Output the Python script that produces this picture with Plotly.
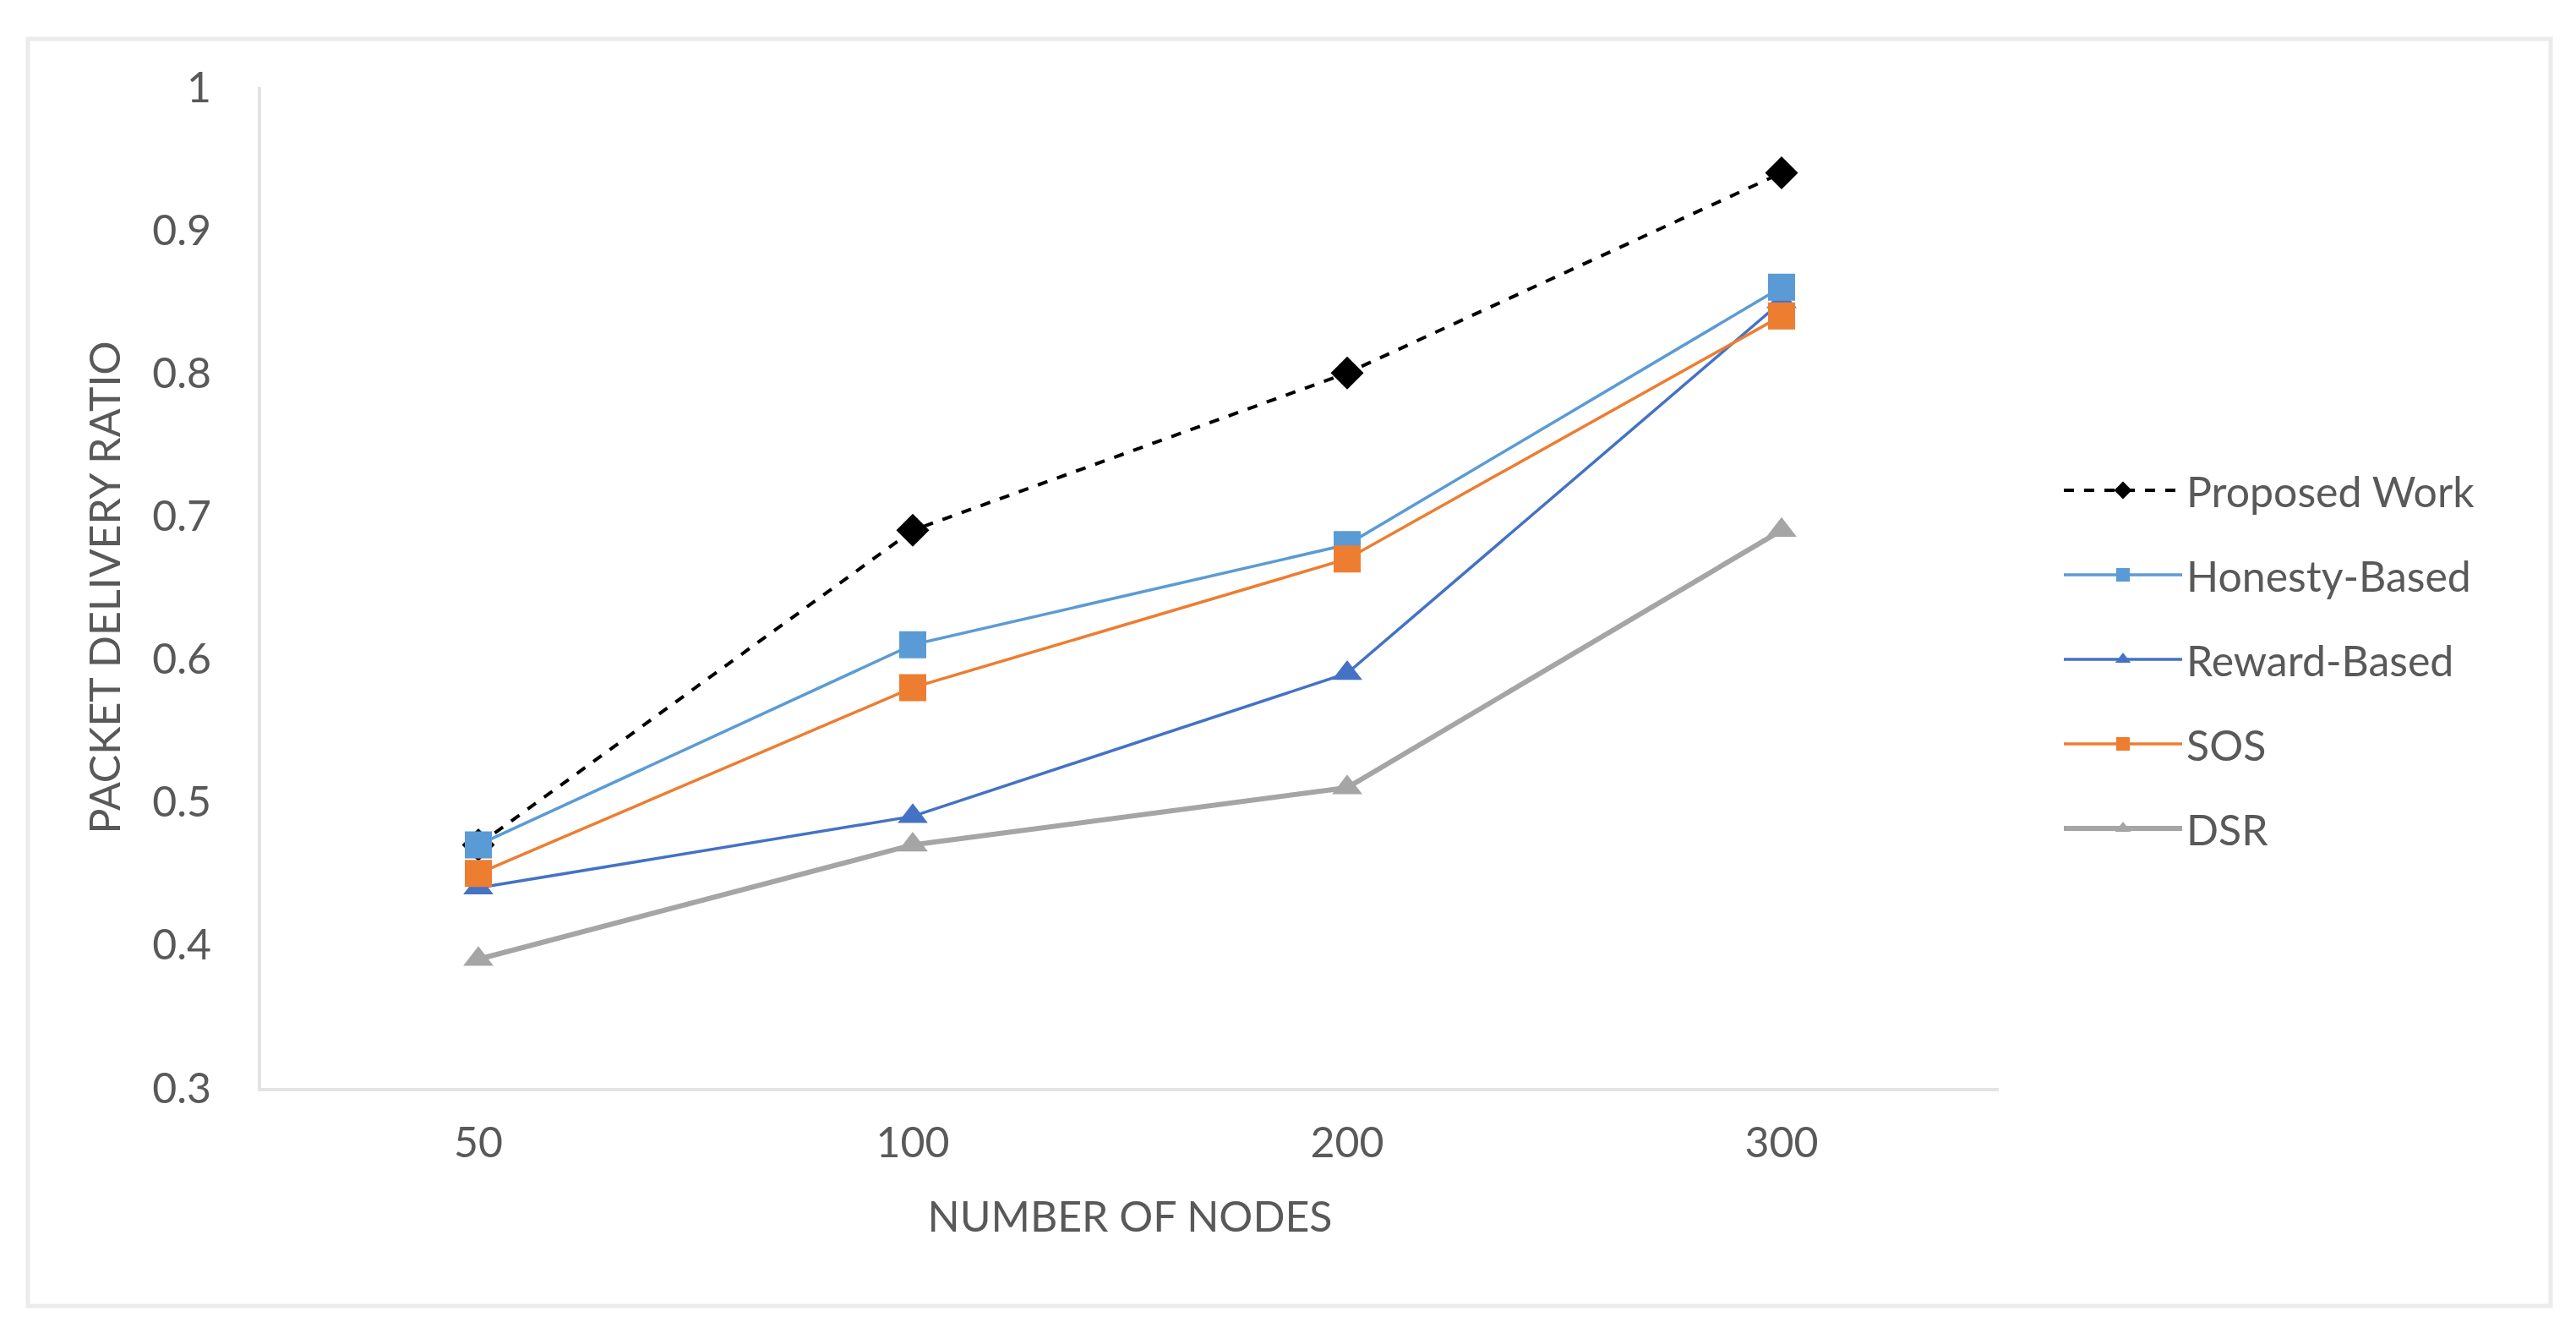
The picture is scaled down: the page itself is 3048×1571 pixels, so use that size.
import plotly.graph_objects as go

# ---- data ----
nodes = ["50", "100", "200", "300"]
proposed_work = [0.47, 0.69, 0.80, 0.94]
honesty_based = [0.47, 0.61, 0.68, 0.86]
reward_based = [0.44, 0.49, 0.59, 0.85]
sos = [0.45, 0.58, 0.67, 0.84]
dsr = [0.39, 0.47, 0.51, 0.69]
y_tickvals = [0.3, 0.4, 0.5, 0.6, 0.7, 0.8, 0.9, 1.0]
y_ticktext = ["0.3", "0.4", "0.5", "0.6", "0.7", "0.8", "0.9", "1"]

FONT = "Lato, 'Open Sans', sans-serif"
TXT = "#595959"

W, H = 3048, 1571
L, R, T, B = 301, 2357, 95, 1279

fig = go.Figure()

# (name, values, color, line width, dash, marker symbol, marker size, legend rank)
series = [
    ("DSR", dsr, "#A5A5A5", 6, "solid", "triangle-up", 31, 5),
    ("Proposed Work", proposed_work, "#000000", 4, "dash", "diamond", 30, 1),
    ("Reward-Based", reward_based, "#4472C4", 3.5, "solid", "triangle-up", 31, 3),
    ("Honesty-Based", honesty_based, "#5B9BD5", 3.5, "solid", "square", 32, 2),
    ("SOS", sos, "#ED7D31", 3.5, "solid", "square", 32, 4),
]
for name, vals, col, lw, dash, sym, ms, rank in series:
    fig.add_trace(go.Scatter(
        x=nodes, y=vals, name=name, mode="lines+markers",
        line=dict(color=col, width=lw, dash=dash),
        marker=dict(symbol=sym, size=ms, color=col, line=dict(width=0)),
        legendrank=rank, legendgroup=name,
    ))

fig.update_layout(
    width=W, height=H,
    margin=dict(l=L, r=W - R, t=T, b=H - B, pad=0),
    paper_bgcolor="white", plot_bgcolor="white",
    font=dict(family=FONT, color=TXT, size=50),
    showlegend=True,
    legend=dict(
        x=(2429 - L) / (R - L), xanchor="left",
        y=(B - 772) / (B - T), yanchor="middle",
        font=dict(family=FONT, size=50, color=TXT),
        traceorder="grouped", tracegroupgap=32,
        itemwidth=140, bgcolor="rgba(0,0,0,0)",
    ),
    xaxis=dict(
        type="category", range=[-0.5, 3.5],
        showgrid=False, zeroline=False,
        showline=True, linecolor="#E3E3E3", linewidth=4,
        ticks="", ticklabelstandoff=18,
        tickfont=dict(family=FONT, size=50, color=TXT),
        title=dict(text="NUMBER OF NODES", standoff=44,
                   font=dict(family=FONT, size=50, color=TXT)),
    ),
    yaxis=dict(
        range=[0.3, 1.0], tickvals=y_tickvals, ticktext=y_ticktext,
        showgrid=False, zeroline=False,
        showline=True, linecolor="#E3E3E3", linewidth=4,
        ticks="", ticklabelstandoff=45,
        tickfont=dict(family=FONT, size=50, color=TXT),
        title=dict(text="PACKET DELIVERY RATIO", standoff=23,
                   font=dict(family=FONT, size=50, color=TXT)),
    ),
    shapes=[dict(
        type="rect", xref="paper", yref="paper",
        x0=(25 - L) / (R - L), x1=(3010 - L) / (R - L),
        y0=(B - 1537) / (B - T), y1=(B - 38) / (B - T),
        line=dict(color="#EBEBEB", width=5), fillcolor="rgba(0,0,0,0)",
        layer="below",
    )],
)

fig.write_html("out.html")
